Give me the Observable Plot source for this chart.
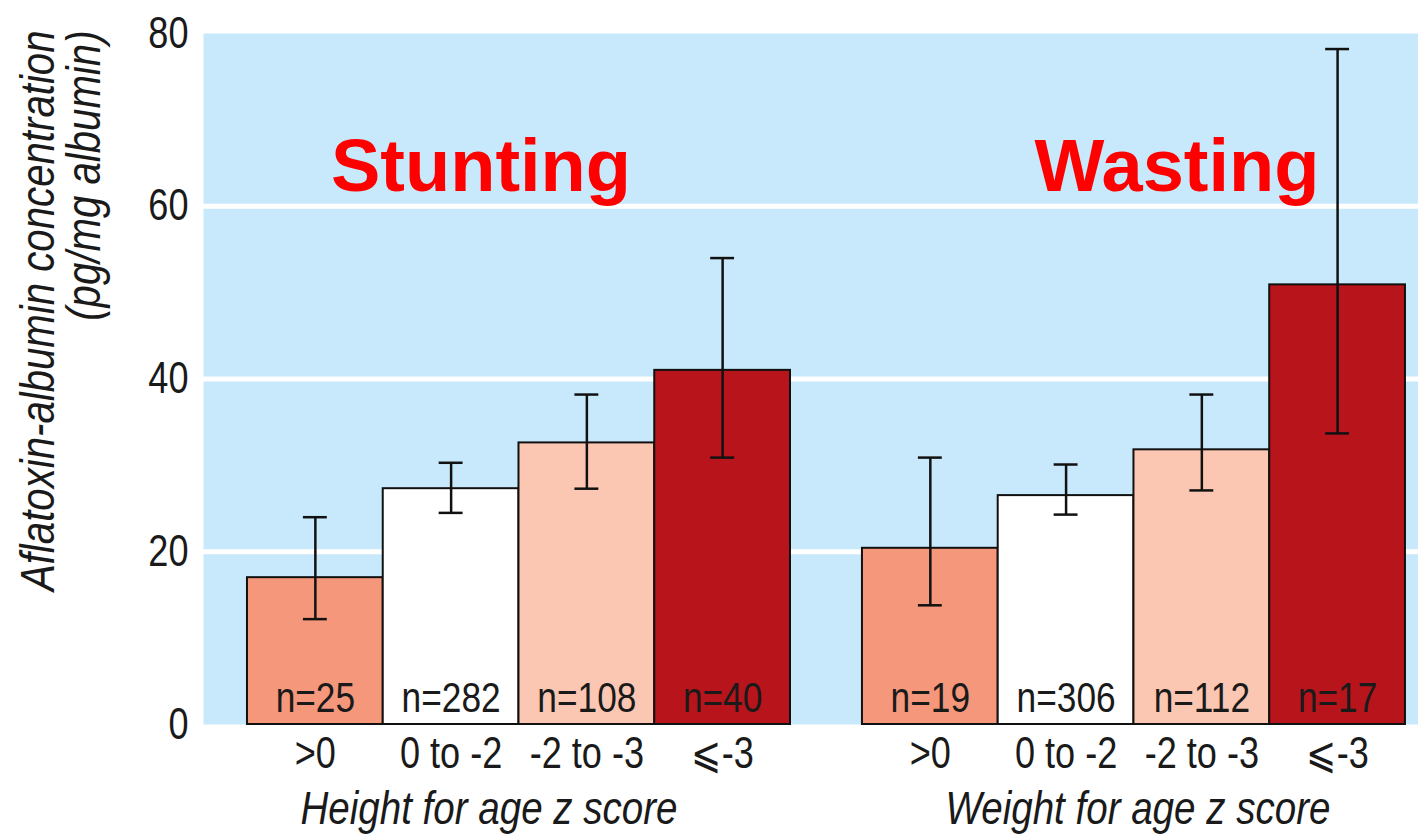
<!DOCTYPE html>
<html>
<head>
<meta charset="utf-8">
<script src="https://cdn.jsdelivr.net/npm/d3@7"></script>
<script src="https://cdn.jsdelivr.net/npm/@observablehq/plot@0.6"></script>
<style>
  html, body { margin: 0; padding: 0; background: #fff; }
  #chart svg { display: block; }
</style>
</head>
<body>
<div id="chart"></div>
<script>
// ---- data ----
const groups = ["Height for age z score", "Weight for age z score"];
const panelTitles = ["Stunting", "Wasting"];
const categories = [">0", "0 to -2", "-2 to -3", "\u2A7D-3"];
const stuntingMean = [17.0, 27.3, 32.6, 41.0];
const stuntingLow  = [12.2, 24.5, 27.3, 30.9];
const stuntingHigh = [24.0, 30.3, 38.2, 54.0];
const stuntingN    = [25, 282, 108, 40];
const wastingMean  = [20.4, 26.5, 31.8, 50.9];
const wastingLow   = [13.8, 24.3, 27.1, 33.7];
const wastingHigh  = [30.9, 30.1, 38.2, 78.2];
const wastingN     = [19, 306, 112, 17];
const yTicks = [0, 20, 40, 60, 80];
const yLabel = "Aflatoxin-albumin concentration\n(pg/mg albumin)";

// ---- layout (bar slots in bar-width units) ----
const groupGap = 0.53;
const capHalf = 0.088;
const colors = ["#f5977a", "#ffffff", "#fcc7b2", "#b7141b"];

const series = [
  {mean: stuntingMean, low: stuntingLow, high: stuntingHigh, n: stuntingN},
  {mean: wastingMean, low: wastingLow, high: wastingHigh, n: wastingN}
];
const rows = [];
series.forEach((s, g) => {
  categories.forEach((c, i) => {
    const left = g * (categories.length + groupGap) + i;
    rows.push({group: g, cat: c, i, left, right: left + 1, center: left + 0.5,
               mean: s.mean[i], low: s.low[i], high: s.high[i], n: "n=" + s.n[i]});
  });
});
const tickLabel = new Map(rows.map(d => [d.center, d.cat]));
const groupRows = groups.map((label, g) => ({
  label, title: panelTitles[g],
  center: g * (categories.length + groupGap) + categories.length / 2
}));

const font = "'Liberation Sans', Arial, Helvetica, sans-serif";
const ink = "#1a1a1a";

const plot = Plot.plot({
  width: 1418,
  height: 835,
  marginLeft: 203,
  marginRight: 0,
  marginTop: 33,
  marginBottom: 111,
  style: {fontFamily: font, color: ink, background: "#fff", overflow: "visible"},
  x: {domain: [-0.324, 8.626], axis: null},
  y: {domain: [0, 80], axis: null},
  marks: [
    Plot.frame({fill: "#c8e9fb", stroke: null}),
    Plot.gridY([20, 40, 60], {stroke: "#ffffff", strokeWidth: 5, strokeOpacity: 1}),
    Plot.axisY(yTicks, {tickSize: 0, tickPadding: 15, fontSize: 44, label: null, fill: ink}),
    Plot.axisX(rows.map(d => d.center), {
      tickSize: 0, tickPadding: 12, fontSize: 44, label: null, fill: ink,
      tickFormat: d => tickLabel.get(d)
    }),
    Plot.rectY(rows, {x1: "left", x2: "right", y1: 0, y2: "mean",
      fill: (d) => colors[d.i], stroke: "#111", strokeWidth: 2}),
    Plot.ruleX(rows, {x: "center", y1: "low", y2: "high", stroke: "#111", strokeWidth: 2.5}),
    Plot.ruleY(rows, {y: "high", x1: d => d.center - capHalf, x2: d => d.center + capHalf, stroke: "#111", strokeWidth: 2.5}),
    Plot.ruleY(rows, {y: "low", x1: d => d.center - capHalf, x2: d => d.center + capHalf, stroke: "#111", strokeWidth: 2.5}),
    Plot.text(rows, {x: "center", y: 0, text: "n", lineAnchor: "bottom", dy: -13,
      fontSize: 43, fill: ink}),
    Plot.text(groupRows.slice(0, 1), {x: "center", text: "label", frameAnchor: "bottom",
      dx: -30, lineAnchor: "middle", dy: 84, fontSize: 47, fontStyle: "italic", fill: ink}),
    Plot.text(groupRows.slice(1, 2), {x: "center", text: "label", frameAnchor: "bottom",
      dx: 4, lineAnchor: "middle", dy: 84, fontSize: 47, fontStyle: "italic", fill: ink}),
    Plot.text(groupRows.slice(0, 1), {x: "center", text: "title", frameAnchor: "top",
      dx: -38, lineAnchor: "middle", dy: 134, fontSize: 74, fontWeight: "bold", fill: "#ff0000"}),
    Plot.text(groupRows.slice(1, 2), {x: "center", text: "title", frameAnchor: "top",
      dx: 43, lineAnchor: "middle", dy: 134, fontSize: 74, fontWeight: "bold", fill: "#ff0000"}),
    Plot.text([yLabel], {text: d => d, frameAnchor: "top-left", rotate: -90,
      textAnchor: "end", lineAnchor: "top", lineHeight: 0.95, dx: -183, dy: -3,
      fontSize: 49, fontStyle: "italic", fill: ink})
  ]
});
document.getElementById("chart").appendChild(plot);

// Condense the regular (non-title) text like the reference's narrow typeface.
const condense = 0.82;
plot.querySelectorAll("text").forEach(t => {
  const bold = t.closest("[font-weight='bold']");
  if (bold) return;
  const spans = t.querySelectorAll("tspan");
  const targets = spans.length ? Array.from(spans) : [t];
  targets.forEach(el => {
    const len = el.getComputedTextLength();
    if (len > 0) {
      el.setAttribute("textLength", (len * condense).toFixed(2));
      el.setAttribute("lengthAdjust", "spacingAndGlyphs");
    }
  });
});
</script>
</body>
</html>
